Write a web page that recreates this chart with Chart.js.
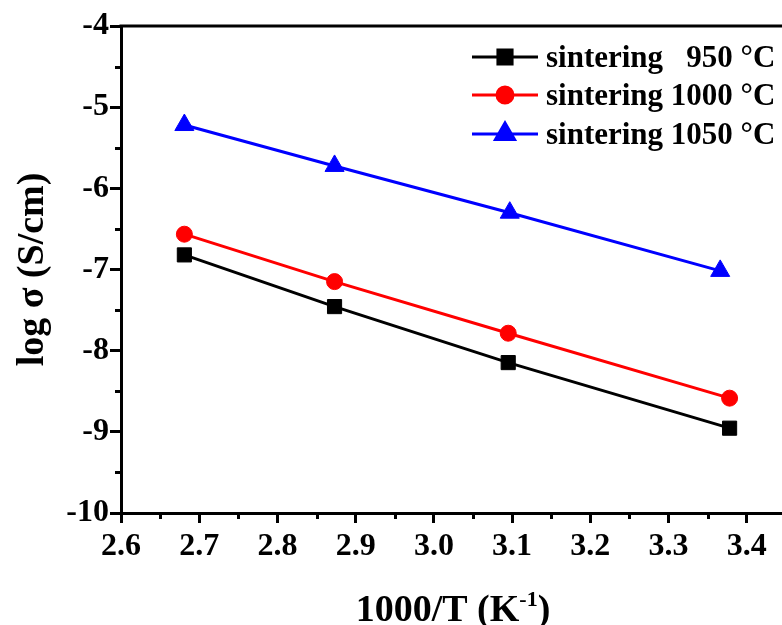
<!DOCTYPE html>
<html>
<head>
<meta charset="utf-8">
<script src="https://cdn.jsdelivr.net/npm/chart.js@4"></script>
<style>
  html, body { margin: 0; padding: 0; background: #fff; overflow: hidden; }
  canvas { display: block; }
</style>
</head>
<body>
<canvas id="arrhenius" width="782" height="625"></canvas>
<script>
// values: 1000/T (K^-1) vs log sigma (S/cm)
const seriesLabels = ['sintering   950 \u00B0C', 'sintering 1000 \u00B0C', 'sintering 1050 \u00B0C'];
const seriesColors = ['#000000', '#ff0000', '#0000ff'];

const x950 = [2.681, 2.873, 3.095, 3.378];
const y950 = [-6.82, -7.457, -8.147, -8.955];
const x1000 = [2.681, 2.873, 3.095, 3.378];
const y1000 = [-6.565, -7.149, -7.785, -8.585];
const x1050 = [2.681, 2.873, 3.097, 3.366];
const y1050 = [-5.22, -5.724, -6.30, -7.017];

const xTicks = [2.6, 2.7, 2.8, 2.9, 3.0, 3.1, 3.2, 3.3, 3.4];
const xMinor = [2.65, 2.75, 2.85, 2.95, 3.05, 3.15, 3.25, 3.35];
const yTicks = [-10, -9, -8, -7, -6, -5, -4];
const yMinor = [-9.5, -8.5, -7.5, -6.5, -5.5, -4.5];

const SERIF = '"Liberation Serif", "Times New Roman", serif';

const pts = (xs, ys) => xs.map((v, i) => ({ x: v, y: ys[i] }));

const markers = [
  { pointStyle: 'rect', radius: 10 },
  { pointStyle: 'circle', radius: 8 },
  { pointStyle: 'triangle', radius: 11 },
];

// top frame, minor ticks, axis titles and the line+marker legend
const decor = {
  id: 'decor',
  afterDraw(chart) {
    const { ctx, chartArea: a, scales: { x, y } } = chart;
    ctx.save();
    ctx.strokeStyle = '#000';
    ctx.lineWidth = 3;
    ctx.beginPath();
    ctx.moveTo(a.left - 1.5, a.top);
    ctx.lineTo(chart.width, a.top);
    ctx.stroke();

    ctx.beginPath();
    xMinor.forEach(v => {
      const px = Math.round(x.getPixelForValue(v)) + 0.5;
      ctx.moveTo(px, a.bottom); ctx.lineTo(px, a.bottom + 6);
    });
    yMinor.forEach(v => {
      const py = Math.round(y.getPixelForValue(v)) + 0.5;
      ctx.moveTo(a.left, py); ctx.lineTo(a.left - 6, py);
    });
    ctx.stroke();

    // y title
    ctx.fillStyle = '#000';
    ctx.font = 'bold 38px ' + SERIF;
    ctx.textAlign = 'center';
    ctx.textBaseline = 'alphabetic';
    ctx.save();
    ctx.translate(43, (a.top + a.bottom) / 2);
    ctx.rotate(-Math.PI / 2);
    ctx.fillText('log \u03C3 (S/cm)', 0, 0);
    ctx.restore();

    // x title with superscript
    const big = 'bold 38px ' + SERIF, small = 'bold 22px ' + SERIF;
    const parts = [['1000/T (K', big, 0], ['-1', small, -15], [')', big, 0]];
    let total = 0;
    parts.forEach(p => { ctx.font = p[1]; total += ctx.measureText(p[0]).width; });
    let cx = 453 - total / 2;
    ctx.textAlign = 'left';
    parts.forEach(p => {
      ctx.font = p[1];
      ctx.fillText(p[0], cx, 621 + p[2]);
      cx += ctx.measureText(p[0]).width;
    });

    // legend
    const rows = [57, 95, 134];
    ctx.font = 'bold 31px ' + SERIF;
    chart.data.datasets.forEach((ds, i) => {
      const ry = rows[i];
      ctx.strokeStyle = ds.borderColor;
      ctx.fillStyle = ds.borderColor;
      ctx.lineWidth = 3;
      ctx.beginPath();
      ctx.moveTo(472, ry); ctx.lineTo(538, ry);
      ctx.stroke();
      Chart.helpers.drawPoint(ctx, {
        pointStyle: markers[i].pointStyle, radius: markers[i].radius,
        rotation: 0, borderWidth: 1,
      }, 505, ry);
      ctx.fillStyle = '#000';
      ctx.fillText(ds.label, 546, ry + 10);
    });
    ctx.restore();
  },
};

const dataSets = [pts(x950, y950), pts(x1000, y1000), pts(x1050, y1050)].map((d, i) => ({
  label: seriesLabels[i],
  data: d,
  showLine: true,
  borderColor: seriesColors[i],
  backgroundColor: seriesColors[i],
  pointBackgroundColor: seriesColors[i],
  pointBorderColor: seriesColors[i],
  borderWidth: 3,
  pointStyle: markers[i].pointStyle,
  pointRadius: markers[i].radius,
  pointBorderWidth: 1,
  tension: 0,
}));

const tickFont = { family: SERIF, size: 32, weight: 'bold' };

new Chart(document.getElementById('arrhenius').getContext('2d'), {
  type: 'scatter',
  data: { datasets: dataSets },
  plugins: [decor],
  options: {
    responsive: false, animation: false,
    layout: { autoPadding: false, padding: { left: 0, top: 26, right: 0, bottom: 0 } },
    plugins: { legend: { display: false }, tooltip: { enabled: false } },
    scales: {
      x: {
        type: 'linear', min: 2.6, max: 3.445,
        afterBuildTicks: s => { s.ticks = xTicks.map(v => ({ value: v })); },
        afterFit: s => { s.height = 112; s.paddingRight = 0; s.paddingLeft = 0; },
        ticks: { color: '#000', font: tickFont, padding: 5, maxRotation: 0,
          callback: v => Number(v).toFixed(1) },
        grid: { drawOnChartArea: false, drawTicks: true, tickLength: 10, tickWidth: 3, tickColor: '#000' },
        border: { display: true, color: '#000', width: 3 },
      },
      y: {
        type: 'linear', min: -10, max: -4,
        afterBuildTicks: s => { s.ticks = yTicks.map(v => ({ value: v })); },
        afterFit: s => { s.width = 121; s.paddingTop = 0; s.paddingBottom = 0; },
        ticks: { color: '#000', font: tickFont, padding: 1, callback: v => String(v) },
        grid: { drawOnChartArea: false, drawTicks: true, tickLength: 11, tickWidth: 3, tickColor: '#000' },
        border: { display: true, color: '#000', width: 3 },
      },
    },
  },
});
</script>
</body>
</html>
